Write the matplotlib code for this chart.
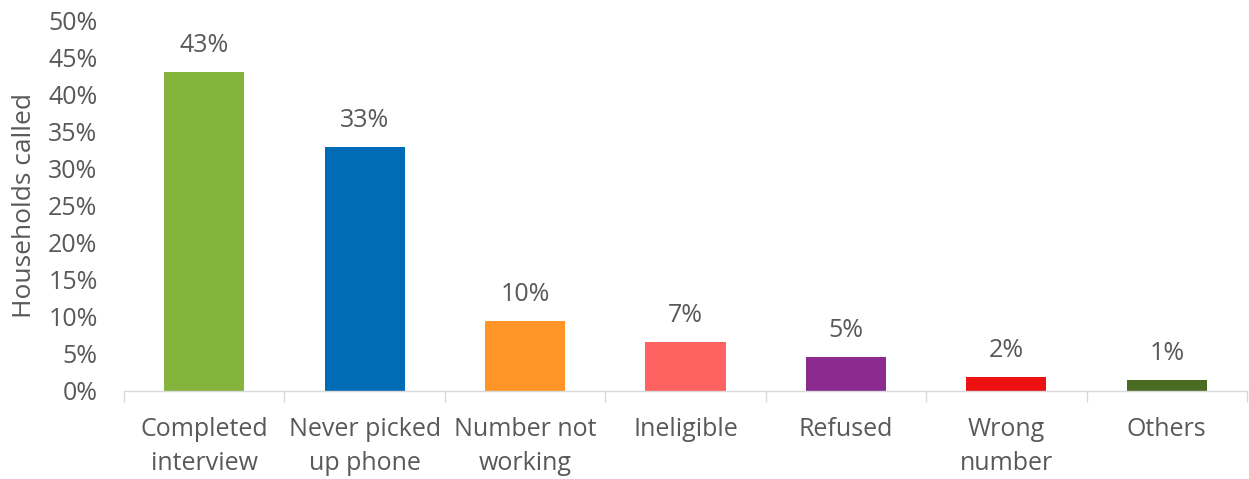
import matplotlib.pyplot as plt
import numpy as np

# Dados do gráfico
categorias = ['Completed\ninterview', 'Never picked\nup phone', 'Number not\nworking',
              'Ineligible', 'Refused', 'Wrong\nnumber', 'Others']
valores = [43.0, 32.9, 9.5, 6.6, 4.6, 1.9, 1.5]
rotulos = ['43%', '33%', '10%', '7%', '5%', '2%', '1%']
cores = ['#84b43c', '#006bb6', '#ff9527', '#ff6361', '#8b2a8f', '#ee1111', '#4a6b22']

plt.rcParams['font.family'] = ['Open Sans', 'DejaVu Sans']
cor_texto = '#595959'
cor_eixo = '#d9d9d9'

fig = plt.figure(figsize=(12.49, 4.79), dpi=100)
ax = fig.add_axes([124 / 1249, 1 - 391 / 479, 1123 / 1249, 371 / 479])

x = np.arange(len(categorias))
barras = ax.bar(x, valores, width=0.5, color=cores)

# Rótulos acima das barras
for xi, v, r in zip(x, valores, rotulos):
    ax.annotate(r, (xi, v), xytext=(0, 10), textcoords='offset points',
                ha='center', va='bottom', fontsize=18, color=cor_texto)

ax.set_xlim(-0.5, len(categorias) - 0.5)
ax.set_ylim(0, 50)
ax.set_yticks(range(0, 51, 5))
ax.set_yticklabels([f'{t}%' for t in range(0, 51, 5)])
ax.set_xticks(x)
ax.set_xticklabels(categorias, linespacing=1.45)
ax.set_xticks(np.arange(-0.5, len(categorias), 1), minor=True)

ax.tick_params(axis='x', which='major', length=0, pad=19, labelsize=18, labelcolor=cor_texto)
ax.tick_params(axis='x', which='minor', length=8, width=1, color=cor_eixo)
ax.tick_params(axis='y', length=0, pad=19, labelsize=18, labelcolor=cor_texto)

for lado in ['top', 'right', 'left']:
    ax.spines[lado].set_visible(False)
ax.spines['bottom'].set_color(cor_eixo)
ax.spines['bottom'].set_linewidth(1)

ax.set_ylabel('Households called', fontsize=19, color=cor_texto, labelpad=8)

plt.savefig('out.png', dpi=100)
